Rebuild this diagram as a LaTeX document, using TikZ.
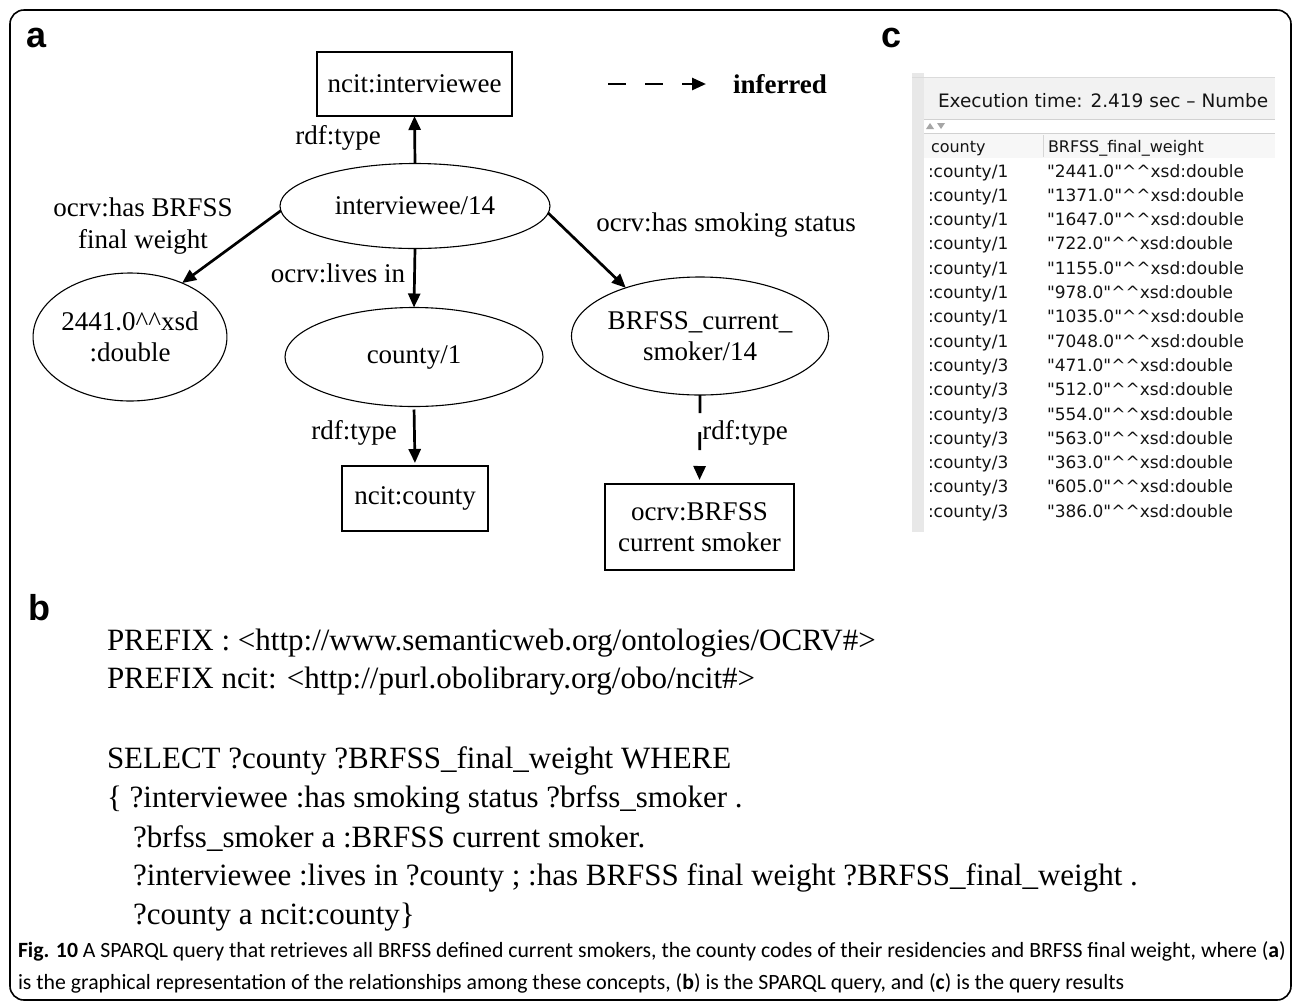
\documentclass[tikz,border=0pt]{standalone}
\usepackage{fontspec}
\setmainfont{Liberation Serif}
\newfontfamily\uifont{DejaVu Sans}
\newfontfamily\capfont{Carlito}
\newfontfamily\tagfont{Liberation Sans}
\usetikzlibrary{arrows.meta,shapes.geometric}

\tikzset{
  every node/.style={inner sep=0pt, outer sep=0pt},
  graphtext/.style={font=\fontsize{27}{31.5}\selectfont, align=center},
  entity/.style={graphtext, draw, line width=1.1pt, ellipse},
  classbox/.style={graphtext, draw, line width=1.1pt, rectangle},
  rel/.style={line width=2.7pt, -{Triangle[length=14pt,width=12pt]}},
  inferredrel/.style={rel, dash pattern=on 18pt off 19pt},
  edgelabel/.style={graphtext},
  paneltag/.style={font=\tagfont\bfseries\fontsize{36}{36}\selectfont, anchor=base west},
  query/.style={font=\fontsize{31}{38}\selectfont, anchor=base west},
  ui/.style={font=\uifont\fontsize{17}{17}\selectfont, text=black!92, anchor=base west},
  uihead/.style={font=\uifont\fontsize{16}{16}\selectfont, text=black!92, anchor=base west},
  captext/.style={font=\capfont\fontsize{21.75}{21.75}\selectfont, anchor=base west},
}

\begin{document}
\begin{tikzpicture}[x=1pt,y=-1pt]
\useasboundingbox (0,0) rectangle (1296,1005);
\fill[white] (0,0) rectangle (1296,1005);

% outer frame
\draw[line width=1.6pt, rounded corners=14pt] (10,10) rectangle (1291,1000);

% panel tags
\node[paneltag] (tagA) at (27,47) {a};
\node[paneltag] (tagC) at (881,47) {c};
\node[paneltag] (tagB) at (28,620) {b};

% ---- panel a: graph ----
\node[classbox, minimum width=195pt, minimum height=64pt] (ibox) at (414.5,84) {ncit:interviewee};
\node[entity, minimum width=270pt, minimum height=85pt] (iv) at (415,206) {interviewee/14};
\node[entity, minimum width=190pt, minimum height=128pt] (dbl) at (130,337) {2441.0\textasciicircum\textasciicircum xsd\\:double};
\node[entity, minimum width=258pt, minimum height=99pt] (cty) at (414,357) {county/1};
\node[classbox, minimum width=146pt, minimum height=65pt] (cbox) at (415,498.5) {ncit:county};
\node[entity, minimum width=257pt, minimum height=118pt, inner xsep=-4pt] (sm) at (700,336) {BRFSS\_current\_\\smoker/14};
\node[classbox, minimum width=189pt, minimum height=86pt] (csbox) at (699.5,527) {ocrv:BRFSS\\current smoker};

\draw[rel] (iv.north) -- (ibox.south);
\draw[rel] (iv.182) -- (dbl.46);
\draw[rel] (iv.south) -- (cty.north);
\draw[rel, shorten <=3pt, shorten >=3pt] (cty.south) -- (cbox.north);
\draw[rel] (iv.-3) -- (sm.147);
\draw[inferredrel, shorten >=4pt] (sm.south) -- (csbox.north);

\node[edgelabel] (l1) at (338,138) {rdf:type};
\node[edgelabel] (l2) at (143,226) {ocrv:has BRFSS\\final weight};
\node[edgelabel] (l3) at (338,273) {ocrv:lives in};
\node[edgelabel] (l4) at (726,225) {ocrv:has smoking status};
\node[edgelabel] (l5) at (354,433) {rdf:type};
\node[edgelabel] (l6) at (745,433) {rdf:type};

% legend
\coordinate (lgA) at (608,84);
\coordinate (lgB) at (706,84);
\draw[inferredrel] (lgA) -- (lgB);
\node[graphtext, font=\fontsize{27}{31.5}\selectfont\bfseries, anchor=west] (lgT) at (733,84) {inferred};

% ---- panel c: query results ----
\begin{scope}
\clip (905,60) rectangle (1275,540);
\fill[black!9] (912,73) rectangle (924,532);
\fill[black!5] (924,78) rectangle (1275,119);
\draw[black!14, line width=1.2pt] (912,77.5) -- (1275,77.5);
\draw[black!18, line width=1pt] (924,119) -- (1275,119);
\draw[black!18, line width=1pt] (924,133) -- (1275,133);
\fill[black!3] (924,133.5) rectangle (1275,158);
\draw[black!16, line width=1pt] (1043,135) -- (1043,157);
\fill[black!35] (926,129) -- (934,129) -- (930,123) -- cycle;
\fill[black!35] (937,123) -- (945,123) -- (941,129) -- cycle;
\node[ui, font=\uifont\fontsize{18.5}{18.5}\selectfont] (exec) at (938,107) {Execution time: 2.419 sec \textendash{} Numbe};
\node[uihead] (hc1) at (931,152) {county};
\node[uihead] (hc2) at (1048,152) {BRFSS\_final\_weight};
\foreach \c/\w [count=\i from 0] in {1/2441.0,1/1371.0,1/1647.0,1/722.0,1/1155.0,1/978.0,1/1035.0,1/7048.0,3/471.0,3/512.0,3/554.0,3/563.0,3/363.0,3/605.0,3/386.0}{
  \node[ui] (ra\i) at (928,{177+\i*24.3}) {:county/\c};
  \node[ui] (rb\i) at (1047,{177+\i*24.3}) {"\w"\textasciicircum\textasciicircum xsd:double};
}
\end{scope}

% ---- panel b: SPARQL query ----
\node[query] (q1) at (107,650) {PREFIX : <http://www.semanticweb.org/ontologies/OCRV\#>};
\node[query] (q2) at (107,688) {PREFIX ncit: <http://purl.obolibrary.org/obo/ncit\#>};
\node[query] (q3) at (107,768) {SELECT ?county ?BRFSS\_final\_weight WHERE};
\node[query] (q4) at (107,807) {\{ ?interviewee :has smoking status ?brfss\_smoker .};
\node[query] (q5) at (133,847) {?brfss\_smoker a :BRFSS current smoker.};
\node[query] (q6) at (133,885) {?interviewee :lives in ?county ; :has BRFSS final weight ?BRFSS\_final\_weight .};
\node[query] (q7) at (133,924) {?county a ncit:county\}};

% ---- caption ----
\node[captext] (cap1) at (18,957) {{\bfseries Fig. 10} A SPARQL query that retrieves all BRFSS defined current smokers, the county codes of their residencies and BRFSS final weight, where ({\bfseries a})};
\node[captext] (cap2) at (18,989) {is the graphical representation of the relationships among these concepts, ({\bfseries b}) is the SPARQL query, and ({\bfseries c}) is the query results};
\end{tikzpicture}
\end{document}
